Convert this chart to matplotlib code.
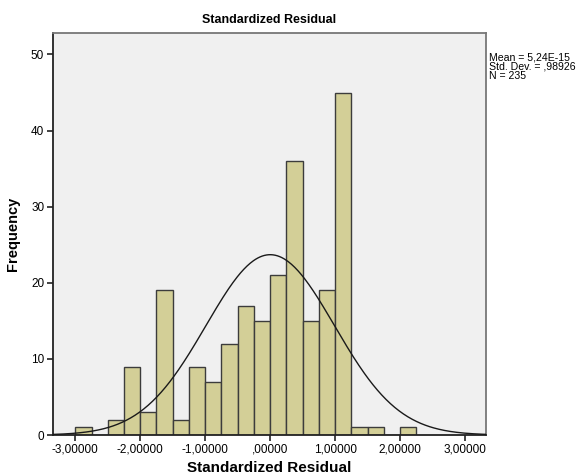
import numpy as np
import matplotlib.pyplot as plt

plt.rcParams['font.family'] = ['Liberation Sans', 'DejaVu Sans']

# histogram bins of the standardized residuals (width 0.25)
bin_edges = [-3.0, -2.75, -2.5, -2.25, -2.0, -1.75, -1.5, -1.25, -1.0, -0.75,
             -0.5, -0.25, 0.0, 0.25, 0.5, 0.75, 1.0, 1.25, 1.5, 1.75, 2.0, 2.25]
counts = [1, 0, 2, 9, 3, 19, 2, 9, 7, 12, 17, 15, 21, 36, 15, 19, 45, 1, 1, 0, 1]

mean = 5.24e-15
std = 0.98926
n = 235

xticks = [-3, -2, -1, 0, 1, 2, 3]
xtick_labels = ['-3,00000', '-2,00000', '-1,00000', ',00000', '1,00000', '2,00000', '3,00000']
yticks = [0, 10, 20, 30, 40, 50]

fig = plt.figure(figsize=(5.81, 4.75), dpi=100)
ax = fig.add_axes([0.0904, 0.0842, 0.746, 0.846])
ax.set_facecolor('#f0f0f0')

lefts = np.array(bin_edges[:-1])
widths = np.diff(bin_edges)
ax.bar(lefts, counts, width=widths, align='edge', color='#d3cf97',
       edgecolor='#3c3c3c', linewidth=1.0, zorder=2)

# normal curve scaled to the histogram
xs = np.linspace(-3.35, 3.32, 400)
bw = 0.25
ys = n * bw * np.exp(-0.5 * ((xs - mean) / std) ** 2) / (std * np.sqrt(2 * np.pi))
ax.plot(xs, ys, color='#1a1a1a', linewidth=1.0, zorder=3)

ax.set_xlim(-3.35, 3.32)
ax.set_ylim(0, 52.8)
ax.set_xticks(xticks)
ax.set_xticklabels(xtick_labels)
ax.set_yticks(yticks)
ax.tick_params(labelsize=8.5, length=4, width=1.2, color='#222222', pad=2)

for side in ['left', 'bottom']:
    ax.spines[side].set_color('#222222')
    ax.spines[side].set_linewidth(1.3)
for side in ['top', 'right']:
    ax.spines[side].set_color('#777777')
    ax.spines[side].set_linewidth(1.3)

ax.set_title('Standardized Residual', fontsize=9, fontweight='bold', pad=7)
ax.set_xlabel('Standardized Residual', fontsize=11, fontweight='bold', labelpad=4)
ax.set_ylabel('Frequency', fontsize=10.5, fontweight='bold', labelpad=8)

fig.text(489 / 581, 1 - 52 / 475,
         'Mean = 5,24E-15\nStd. Dev. = ,98926\nN = 235',
         fontsize=7.6, va='top', ha='left', linespacing=0.95)

fig.savefig('out.png', dpi=100)
